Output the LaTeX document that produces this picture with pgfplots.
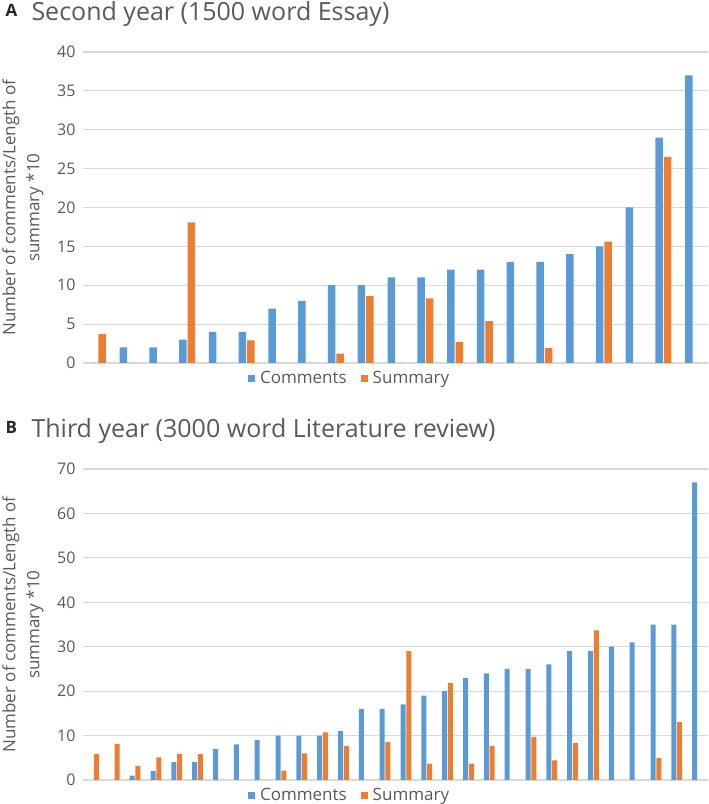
\documentclass[border=0pt]{standalone}
\usepackage{fontspec}
\setmainfont{Open Sans}
\usepackage{pgfplots}
\pgfplotsset{compat=1.18}

\definecolor{cblue}{HTML}{5B9BD5}
\definecolor{corange}{HTML}{ED7D31}
\definecolor{cgrid}{HTML}{D9D9D9}
\definecolor{ctext}{HTML}{595959}

\pgfplotsset{
  excel/.style={
    scale only axis,
    width=625bp, height=311bp,
    anchor=south west,
    ybar, ymin=0,
    axis line style={draw=none},
    ymajorgrids, grid style={cgrid, line width=1.1bp},
    major tick length=0pt,
    xtick=\empty,
    tick label style={font=\fontsize{16bp}{18bp}\selectfont, text=ctext},
    yticklabel style={xshift=-4bp},
    /pgf/number format/assume math mode=true,
    ylabel={Number of comments/Length of\\summary *10},
    ylabel style={at={(axis description cs:-0.096,0.5)}, anchor=center,
      align=center, text=ctext, font=\fontsize{17bp}{24bp}\selectfont},
    legend columns=2,
    legend style={at={(axis description cs:0.4265,0)}, anchor=north, yshift=-4bp,
      draw=none, fill=none, text=ctext, font=\fontsize{17bp}{20bp}\selectfont,
      /tikz/every even column/.append style={column sep=12bp}},
  },
  sq/.style={legend image code/.code={\fill[##1,draw=none] (0bp,-3.5bp) rectangle (7bp,3.5bp);
      \path (0bp,0bp) -- (10bp,0bp);}},
}

\begin{document}
\begin{tikzpicture}
\useasboundingbox (0,0) rectangle (709bp,804bp);

% panel A
\node[anchor=base west, font=\bfseries\fontsize{17bp}{18bp}\selectfont, text=black!85] at (2bp,787bp) {A};
\node[anchor=base west, font=\fontsize{25bp}{28bp}\selectfont, text=ctext] at (28bp,783bp) {Second year (1500 word Essay)};
\begin{axis}[excel, at={(83bp,441bp)},
  xmin=0.5, xmax=21.5, ymax=40, ytick={0,5,...,40}]
\addplot[sq, fill=cblue, draw=none, bar width=7.5bp, bar shift=-4.25bp] coordinates {
(1,0)(2,2)(3,2)(4,3)(5,4)(6,4)(7,7)(8,8)(9,10)(10,10)(11,11)
(12,11)(13,12)(14,12)(15,13)(16,13)(17,14)(18,15)(19,20)(20,29)(21,37)};
\addlegendentry{Comments}
\addplot[sq, fill=corange, draw=none, bar width=7.5bp, bar shift=4.25bp] coordinates {
(1,3.7)(2,0)(3,0)(4,18.1)(5,0)(6,2.9)(7,0)(8,0)(9,1.2)(10,8.6)(11,0)
(12,8.3)(13,2.7)(14,5.4)(15,0)(16,1.9)(17,0)(18,15.6)(19,0)(20,26.5)(21,0)};
\addlegendentry{Summary}
\end{axis}

% panel B
\node[anchor=base west, font=\bfseries\fontsize{17bp}{18bp}\selectfont, text=black!85] at (2bp,370bp) {B};
\node[anchor=base west, font=\fontsize{25bp}{28bp}\selectfont, text=ctext] at (28bp,366bp) {Third year (3000 word Literature review)};
\begin{axis}[excel, at={(83bp,24bp)},
  xmin=0.5, xmax=30.5, ymax=70, ytick={0,10,...,70}]
\addplot[sq, fill=cblue, draw=none, bar width=5bp, bar shift=-2.9bp] coordinates {
(1,0)(2,0)(3,1)(4,2)(5,4)(6,4)(7,7)(8,8)(9,9)(10,10)
(11,10)(12,10)(13,11)(14,16)(15,16)(16,17)(17,19)(18,20)(19,23)(20,24)
(21,25)(22,25)(23,26)(24,29)(25,29)(26,30)(27,31)(28,35)(29,35)(30,67)};
\addlegendentry{Comments}
\addplot[sq, fill=corange, draw=none, bar width=5bp, bar shift=2.9bp] coordinates {
(1,5.8)(2,8.1)(3,3.2)(4,5.1)(5,5.8)(6,5.8)(7,0)(8,0)(9,0)(10,2.1)
(11,6.0)(12,10.7)(13,7.7)(14,0)(15,8.6)(16,29)(17,3.7)(18,21.8)(19,3.7)(20,7.7)
(21,0)(22,9.7)(23,4.4)(24,8.3)(25,33.7)(26,0)(27,0)(28,5.0)(29,13)(30,0)};
\addlegendentry{Summary}
\end{axis}
\end{tikzpicture}
\end{document}
